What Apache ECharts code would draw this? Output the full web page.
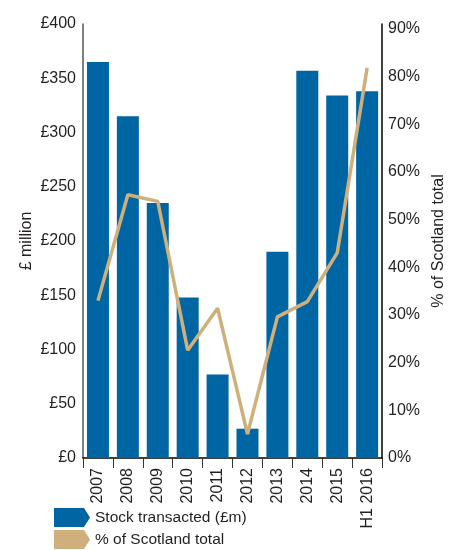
<!DOCTYPE html>
<html><head><meta charset="utf-8">
<script src="https://cdn.jsdelivr.net/npm/echarts@6/dist/echarts.min.js"></script>
<style>html,body{margin:0;padding:0;background:#fff}#c{width:455px;height:550px}</style>
</head><body><div id="c"></div>
<script>
const categories = ['2007','2008','2009','2010','2011','2012','2013','2014','2015','H1 2016'];
const stockValues = [365, 315, 235, 148, 77, 27, 190, 357, 334, 338];
const pctValues = [33, 55.2, 53.8, 22.6, 31.4, 5, 29.6, 32.8, 43, 81.8];
const leftTicks = { min: 0, max: 400, interval: 50 };
const rightTicks = { min: 0, max: 91, interval: 10 };
const seriesNames = ['Stock transacted (£m)', '% of Scotland total'];

const FONT = 'Liberation Sans, Arial, sans-serif';
const TXT = '#231f20';
const BLUE = '#0066a3';
const TAN = '#cfb07c';
const arrow = 'path://M0,0 L30,0 L36,9.5 L30,19 L0,19 Z';

const chart = echarts.init(document.getElementById('c'), null, {renderer: 'canvas'});
chart.setOption({
  animation: false,
  textStyle: { fontFamily: FONT },
  grid: { left: 83, right: 72, top: 24, bottom: 92, containLabel: false },
  legend: {
    orient: 'vertical', left: 54, top: 508, itemGap: 3, padding: 0, height: 60,
    itemWidth: 36, itemHeight: 19,
    textStyle: { fontFamily: FONT, fontSize: 15.5, color: TXT, padding: [0,0,0,0] },
    data: [
      { name: seriesNames[0], icon: arrow, itemStyle: { color: BLUE } },
      { name: seriesNames[1], icon: arrow, itemStyle: { color: TAN } }
    ]
  },
  xAxis: {
    type: 'category', data: categories,
    axisLine: { lineStyle: { color: '#000', width: 1.5 } },
    axisTick: { show: true, alignWithLabel: false, length: 10, lineStyle: { color: '#333' } },
    axisLabel: { rotate: 90, fontSize: 16, color: TXT, fontFamily: FONT, margin: 10, interval: 0 }
  },
  yAxis: [
    {
      type: 'value', min: leftTicks.min, max: leftTicks.max, interval: leftTicks.interval,
      name: '£ million', nameLocation: 'middle', nameRotate: 90, nameGap: 48, nameMoveOverlap: false,
      nameTextStyle: { fontSize: 16, color: TXT, fontFamily: FONT },
      axisLine: { show: true, lineStyle: { color: '#555', width: 1.5 } },
      axisTick: { show: false }, splitLine: { show: false },
      axisLabel: { formatter: '£{value}', fontSize: 16, color: TXT, fontFamily: FONT, margin: 7 }
    },
    {
      type: 'value', min: rightTicks.min, max: rightTicks.max, interval: rightTicks.interval,
      position: 'right',
      name: '% of Scotland total', nameLocation: 'middle', nameRotate: 90, nameGap: 46,
      nameTextStyle: { fontSize: 16, color: TXT, fontFamily: FONT },
      axisLine: { show: true, lineStyle: { color: '#000', width: 1.5 } },
      axisTick: { show: false }, splitLine: { show: false },
      axisLabel: { formatter: v => (v % 10 === 0 ? v + '%' : ''), fontSize: 16, color: TXT, fontFamily: FONT, margin: 6 }
    }
  ],
  series: [
    { name: seriesNames[0], type: 'bar', data: stockValues, barWidth: 22, itemStyle: { color: BLUE }, yAxisIndex: 0 },
    { name: seriesNames[1], type: 'line', data: pctValues, yAxisIndex: 1, symbol: 'none',
      lineStyle: { color: TAN, width: 3.5 }, itemStyle: { color: TAN } }
  ]
});
</script></body></html>
